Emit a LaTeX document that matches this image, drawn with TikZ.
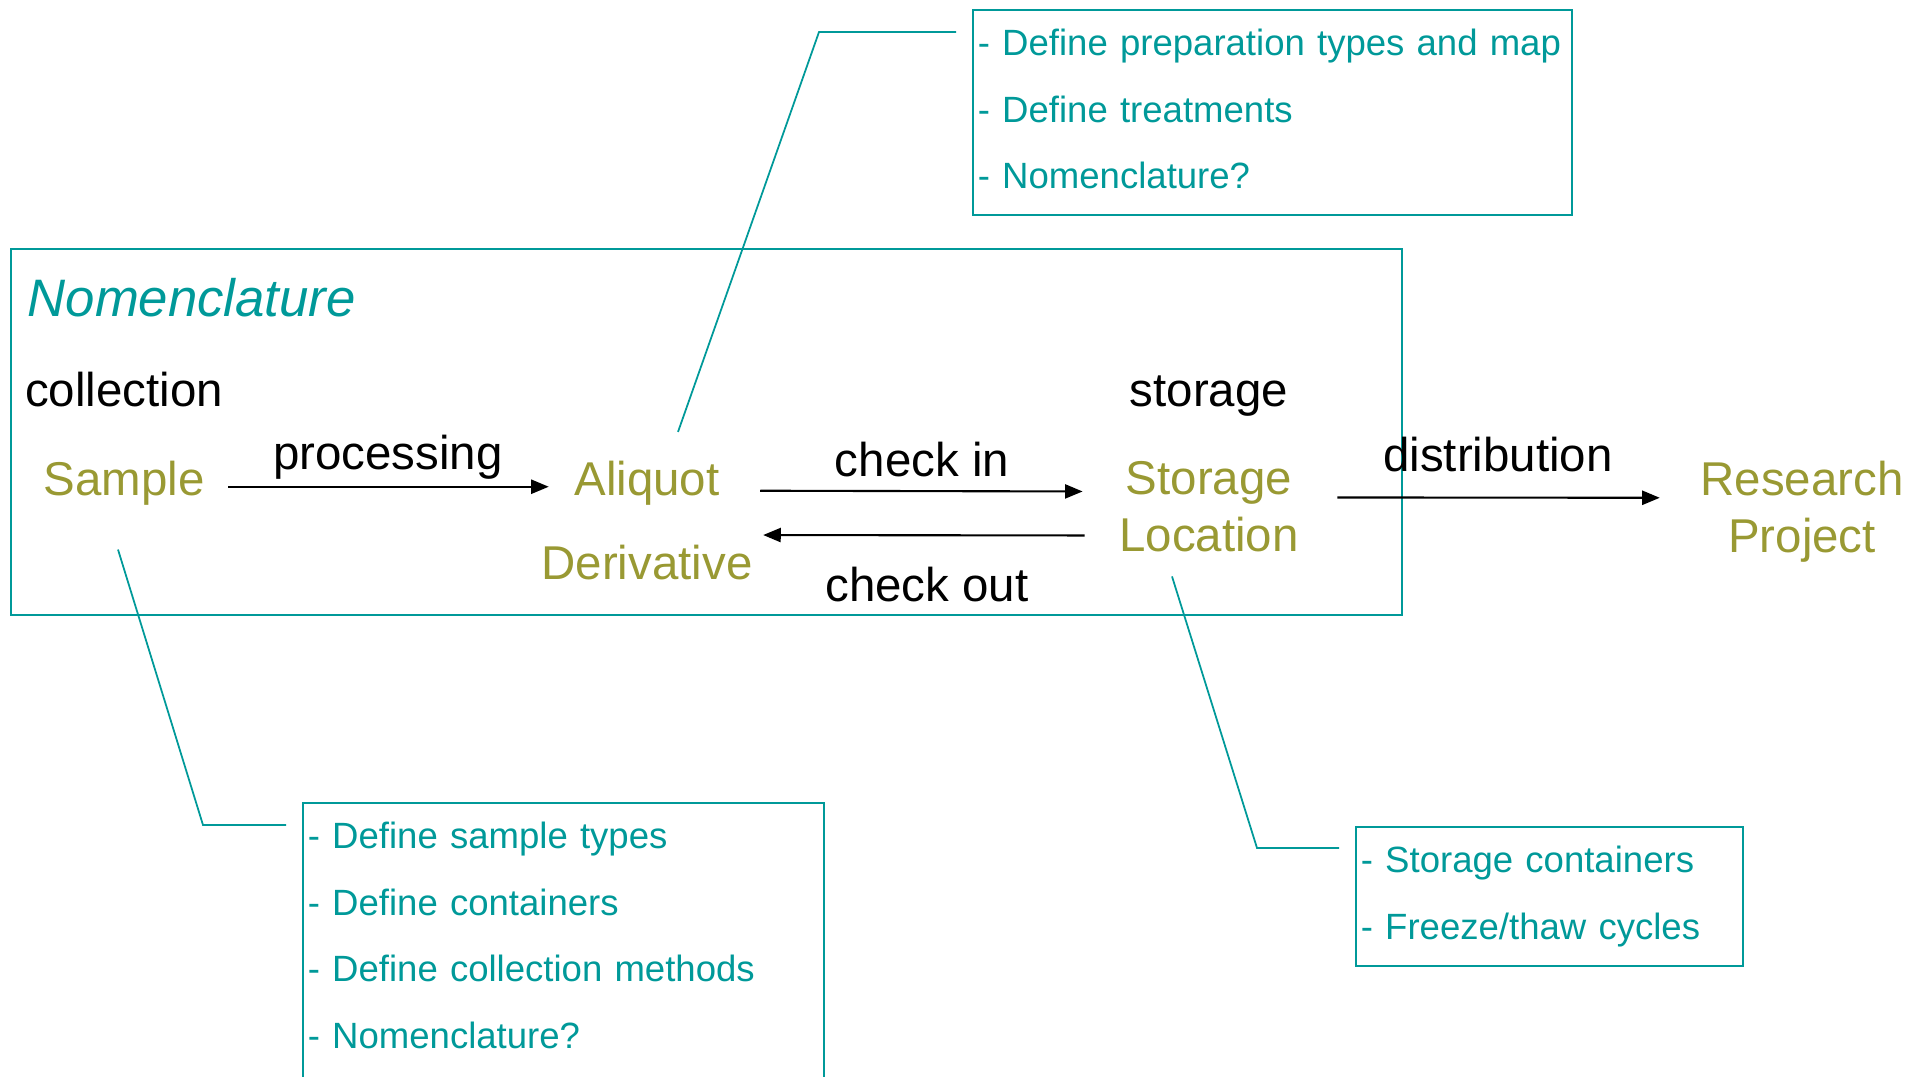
\documentclass[tikz,border=0pt]{standalone}
\usepackage{fontspec}
\setmainfont{Liberation Sans}
\usetikzlibrary{arrows.meta}
\definecolor{noteteal}{HTML}{009999}
\definecolor{itemolive}{HTML}{999933}
\tikzset{
  lbl/.style={inner sep=0pt, font=\fontsize{13.5}{16.2}\selectfont},
  item/.style={lbl, text=itemolive, align=center},
  noteline/.style={draw=noteteal, line width=0.5pt},
  notebox/.style={noteline, text=noteteal, anchor=north west, align=left, inner xsep=0.05cm, inner ysep=0.19cm, font=\fontsize{10.4}{19}\selectfont},
  flow/.style={line width=0.6pt, -{Triangle[length=5pt,width=4pt]}}
}

\begin{document}
\begin{tikzpicture}
	%%%%% START %%%%%
	\useasboundingbox (0,0) rectangle (19.25,-10.77);
	\clip (0,0) rectangle (19.25,-10.77);
	
	\draw[noteline] (0.11,-2.49) rectangle (14.02,-6.15);
	\node[lbl, anchor=base west, text=noteteal, font=\fontsize{15}{18}\selectfont\itshape] (title) at (0.27,-3.17) {Nomenclature};
	
	\node[lbl, anchor=base] (collect) at (1.24,-4.06) {collection};
	\node[lbl, anchor=base] (storetag) at (12.09,-4.06) {storage};
	
	\node[item, anchor=base] (sample) at (1.24,-4.95) {Sample};
	\node[item, anchor=base] (aliquot) at (6.47,-4.95) {Aliquot};
	\node[item, anchor=base] (deriv) at (6.47,-5.79) {Derivative};
	\node[item, anchor=north] (store) at (12.09,-4.605) {Storage\\Location};
	\node[item, anchor=north] (research) at (18.02,-4.605) {Research\\Project};
	
	\node[lbl, anchor=base] (process) at (3.88,-4.69) {processing};
	\node[lbl, anchor=base] (checkin) at (9.22,-4.76) {check in};
	\node[lbl, anchor=base] (checkout) at (9.27,-6.01) {check out};
	\node[lbl, anchor=base] (distrib) at (14.98,-4.71) {distribution};
	
	\draw[flow] ([shift={(0.23,-0.04)}]sample.east) -- ([shift={(-0.25,-0.04)}]aliquot.west);
	\draw[flow] ([shift={(0.40,-0.08)}]aliquot.east) -- ([shift={(-0.36,0.15)}]store.west);
	\draw[flow] ([shift={(-0.34,-0.29)}]store.west) -- ([shift={(0.10,0.27)}]deriv.east);
	\draw[flow] ([shift={(0.38,0.09)}]store.east) -- ([shift={(-0.40,0.14)}]research.west);
	
	% notes
	\node[notebox, text width=5.89cm] (prepbox) at (9.72,-0.09) {- Define preparation types and map\\- Define treatments\\- Nomenclature?\rule[-0.07cm]{0pt}{0pt}};
	\node[notebox, text width=5.11cm] (sampbox) at (3.02,-8.02) {- Define sample types\\- Define containers\\- Define collection methods\\- Nomenclature?\rule[-0.8cm]{0pt}{0pt}};
	\node[notebox, text width=3.77cm] (storebox) at (13.55,-8.26) {- Storage containers\\- Freeze/thaw cycles};
	
	\coordinate (prepbend) at (8.19,-0.32);
	\coordinate (sampbend) at (2.03,-8.25);
	\coordinate (storebend) at (12.57,-8.48);
	\draw[noteline] ([shift={(0.31,0.28)}]aliquot.north) -- (prepbend) -- ([shift={(-0.16,-0.23)}]prepbox.north west);
	\draw[noteline] ([shift={(-0.06,-0.44)}]sample.south) -- (sampbend) -- ([shift={(-0.16,-0.23)}]sampbox.north west);
	\draw[noteline] ([shift={(-0.37,-0.24)}]store.south) -- (storebend) -- ([shift={(-0.16,-0.22)}]storebox.north west);
	%%%%% END %%%%%
\end{tikzpicture}
\end{document}
